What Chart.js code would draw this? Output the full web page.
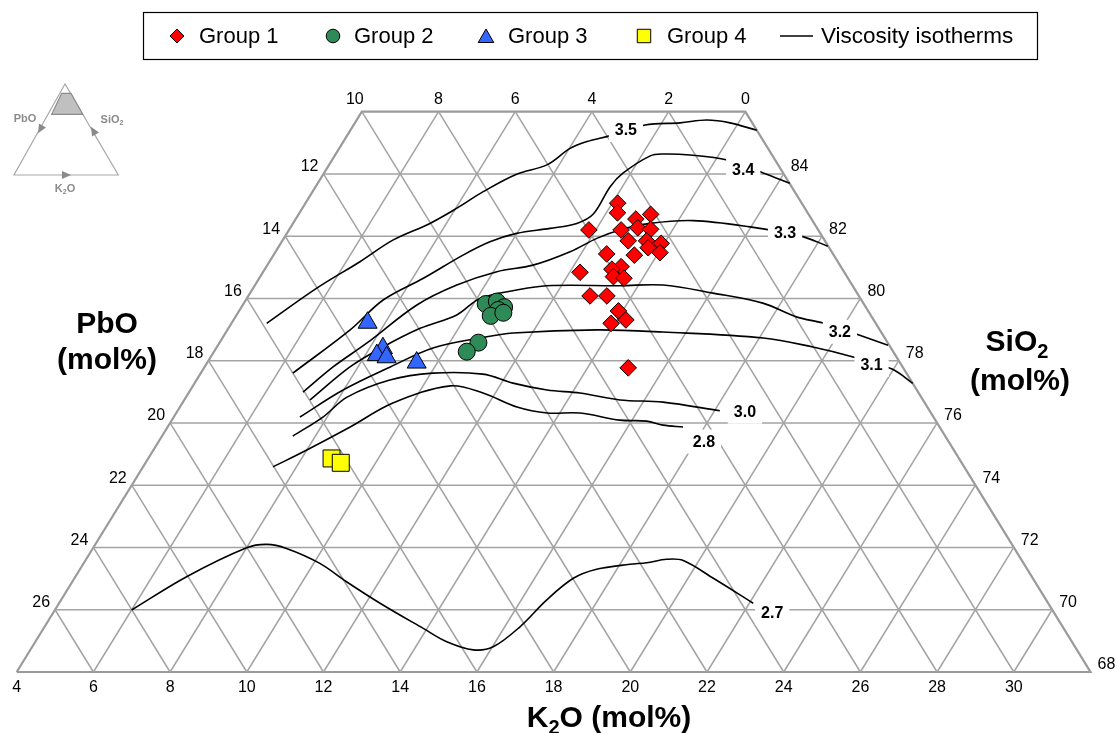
<!DOCTYPE html>
<html>
<head>
<meta charset="utf-8">
<script src="https://cdn.jsdelivr.net/npm/chart.js@4.4.1/dist/chart.umd.min.js"></script>
<style>
  html, body { margin: 0; padding: 0; background: #fff; }
</style>
</head>
<body>
<canvas id="ternary" width="1117" height="733"></canvas>
<script>
// glass compositions in mol%, stored as [K2O, SiO2]; PbO is the remainder
const group1 = [
  [12.14, 83.06], [12.29, 82.75], [12.87, 82.55], [13.18, 82.70], [11.82, 82.20],
  [12.66, 82.20], [13.06, 82.27], [13.42, 82.22], [13.02, 81.85], [13.50, 81.85],
  [13.92, 81.77], [13.65, 81.63], [14.04, 81.47], [13.41, 81.39], [12.67, 81.43],
  [13.25, 81.02], [13.05, 80.94], [13.21, 80.70], [13.51, 80.65], [12.27, 80.84],
  [12.91, 80.08], [13.35, 80.08], [13.89, 79.60], [14.23, 79.31], [13.90, 79.20],
  [15.06, 77.77]
];
const group2 = [
  [10.32, 79.82], [10.57, 79.90], [10.85, 79.72], [10.74, 79.63], [10.64, 79.44],
  [10.92, 79.54], [10.75, 78.58], [10.59, 78.29]
];
const group3 = [[7.54, 79.22], [8.35, 78.40], [8.30, 78.18], [8.59, 78.11], [9.46, 77.94]];
const group4 = [[8.78, 74.86], [9.09, 74.72]];

// viscosity isotherms (log units), traced as [K2O, SiO2]
const isoLevels = ['3.5', '3.4', '3.3', '3.2', '3.1', '3.0', '2.8', '2.7'];
const iso35 = [[4.92, 79.20], [5.66, 80.33], [6.36, 81.18], [6.88, 81.88], [7.57, 82.41], [8.03, 82.90],
  [8.45, 83.43], [9.04, 83.99], [9.68, 84.29], [10.02, 84.82], [10.35, 85.04], [10.86, 85.23],
  [11.60, 85.57], [12.48, 85.64], [13.13, 85.73], [13.78, 85.64], [14.60, 85.40]];
const iso34 = [[6.40, 77.60], [7.20, 78.99], [7.58, 79.95], [8.28, 80.65], [8.95, 81.40], [9.43, 81.82],
  [9.99, 82.09], [10.78, 82.25], [11.40, 82.41], [11.68, 82.71], [11.68, 83.59], [11.80, 84.03],
  [12.23, 84.58], [12.53, 84.64], [13.25, 84.61], [14.30, 84.45], [15.45, 84.03], [16.31, 83.70]];
const iso33 = [[6.97, 76.99], [7.35, 77.80], [7.85, 78.57], [8.54, 79.79], [9.26, 80.43], [10.09, 80.86],
  [10.93, 81.07], [11.68, 81.50], [12.16, 81.93], [12.63, 82.20], [13.31, 82.41], [14.39, 82.50],
  [15.97, 82.30], [17.42, 82.01], [18.31, 81.68]];
const iso32 = [[7.28, 76.74], [7.79, 77.80], [8.33, 78.44], [9.00, 79.04], [9.74, 79.47], [10.08, 80.00],
  [10.90, 80.27], [11.62, 80.41], [13.53, 80.41], [14.64, 80.43], [16.07, 80.17], [17.53, 79.85],
  [18.65, 79.40], [19.42, 79.21], [20.53, 78.83], [21.47, 78.50]];
const iso31 = [[7.29, 76.19], [7.98, 77.06], [8.84, 77.80], [9.65, 78.41], [10.72, 78.73], [11.50, 78.89],
  [13.64, 78.99], [15.39, 78.92], [18.10, 78.73], [19.54, 78.44], [20.75, 78.12], [21.96, 77.73],
  [22.73, 77.27]];
const iso30 = [[7.41, 75.58], [7.89, 76.19], [8.20, 76.83], [9.04, 77.38], [10.05, 77.60], [11.37, 77.57],
  [12.30, 77.28], [13.30, 77.06], [14.21, 76.96], [15.36, 76.74], [16.52, 76.67], [18.14, 76.39]];
const iso28 = [[7.39, 74.59], [8.00, 75.13], [8.76, 75.87], [9.49, 76.64], [10.71, 77.19], [11.68, 76.96],
  [12.79, 76.51], [13.67, 76.32], [14.53, 76.32], [15.68, 76.09], [16.40, 76.06], [16.89, 75.93],
  [17.44, 75.87]];
const iso27 = [[6.00, 69.99], [6.90, 71.06], [8.00, 71.99], [8.47, 72.10], [9.05, 71.97], [10.16, 71.49],
  [11.15, 70.90], [12.37, 70.21], [13.90, 69.40], [14.73, 68.97], [15.55, 68.71], [16.02, 68.81],
  [16.40, 69.46], [16.66, 70.31], [17.01, 71.01], [17.47, 71.30], [18.26, 71.46], [18.67, 71.51],
  [19.14, 71.62], [19.59, 71.58], [20.66, 71.01], [22.10, 70.21]];
const isoLines = [iso35, iso34, iso33, iso32, iso31, iso30, iso28, iso27];
const isoLabelPos = [[11.18, 85.41], [14.88, 84.13], [16.97, 82.13], [20.00, 78.93],
  [21.36, 77.86], [18.81, 76.36], [18.22, 75.40], [22.75, 69.90]];

// tick values along the edges of the field
const pbTopTicks = [10, 8, 6, 4, 2, 0];
const pbLeftTicks = [12, 14, 16, 18, 20, 22, 24, 26];
const siTicks = [84, 82, 80, 78, 76, 74, 72, 70, 68];
const kTicks = [4, 6, 8, 10, 12, 14, 16, 18, 20, 22, 24, 26, 28, 30];

// field limits: K2O >= 4, PbO >= 0, 68 <= SiO2 <= 86
const K_MIN = 4, SI_MIN = 68, SI_MAX = 86;

const FONT = '"Liberation Sans", Arial, Helvetica, sans-serif';
const W = 1117, H = 733;
// base corner (K2O 4, SiO2 68) sits at X0,Y0; pixels per mol% along the base and per mol% SiO2
const X0 = 16.7, Y0 = 672, PX_U = 38.35, PX_S = 31.13;

// ternary -> cartesian: x runs along the base, y is SiO2
function tern(k, s) {
  return { x: k - K_MIN + (s - SI_MIN) / 2, y: s };
}

const gridColor = '#a3a3a3';
const gridSets = [];
function gridLine(a, b, width) {
  gridSets.push({
    data: [tern(a[0], a[1]), tern(b[0], b[1])],
    showLine: true, borderColor: gridColor, borderWidth: width || 1.5,
    pointRadius: 0, order: 3
  });
}
for (let s = 70; s < SI_MAX; s += 2) gridLine([K_MIN, s], [100 - s, s]);
for (let k = 6; k <= 30; k += 2) { const top = Math.min(SI_MAX, 100 - k); gridLine([k, SI_MIN], [k, top]); }
for (let p = 2; p <= 26; p += 2) { const top = Math.min(SI_MAX, 96 - p); gridLine([100 - p - top, top], [32 - p, SI_MIN]); }
// outline of the field
gridSets.push({
  data: [[4, 68], [4, 86], [14, 86], [32, 68], [4, 68]].map(d => tern(d[0], d[1])),
  showLine: true, borderColor: '#9a9a9a', borderWidth: 2.2, pointRadius: 0, order: 3
});

const isoSets = isoLines.map((pts, i) => ({
  label: 'isotherm ' + isoLevels[i],
  data: pts.map(d => tern(d[0], d[1])),
  showLine: true, borderColor: '#000', borderWidth: 1.6, tension: 0.35,
  pointRadius: 0, order: 2
}));

function markers(pts, style, radius, color) {
  return {
    data: pts.map(d => tern(d[0], d[1])),
    pointStyle: style, pointRadius: radius, pointBackgroundColor: color,
    pointBorderColor: '#000', pointBorderWidth: 1, showLine: false, order: 1
  };
}
const markerSets = [
  markers(group1, 'rectRot', 8.3, '#ff0000'),
  markers(group2, 'circle', 8.5, '#2e8b57'),
  markers(group3, 'triangle', 11, '#3366ff'),
  markers(group4, 'rect', 12, '#ffff00')
];

function pix(chart, k, s) {
  const t = tern(k, s);
  return { x: chart.scales.x.getPixelForValue(t.x), y: chart.scales.y.getPixelForValue(t.y) };
}

// text with subscripts: parts starting with '_' are lowered and shrunk
function chemWidth(ctx, parts, size, weight) {
  let w = 0;
  parts.forEach(p => {
    const sub = p[0] === '_';
    ctx.font = `${weight} ${sub ? Math.round(size * 0.65) : size}px ${FONT}`;
    w += ctx.measureText(sub ? p.slice(1) : p).width;
  });
  return w;
}
function drawChem(ctx, parts, x, y, size, weight, align) {
  const w = chemWidth(ctx, parts, size, weight);
  let cx = align === 'center' ? x - w / 2 : (align === 'right' ? x - w : x);
  ctx.textAlign = 'left';
  ctx.textBaseline = 'alphabetic';
  parts.forEach(p => {
    const sub = p[0] === '_';
    const t = sub ? p.slice(1) : p;
    ctx.font = `${weight} ${sub ? Math.round(size * 0.65) : size}px ${FONT}`;
    ctx.fillText(t, cx, sub ? y + size * 0.22 : y);
    cx += ctx.measureText(t).width;
  });
}

const isoLabels = {
  id: 'isoLabels',
  afterDatasetsDraw(chart) {
    const ctx = chart.ctx;
    ctx.save();
    ctx.font = `bold 16px ${FONT}`;
    ctx.textAlign = 'center';
    ctx.textBaseline = 'middle';
    isoLevels.forEach((lv, i) => {
      const p = pix(chart, isoLabelPos[i][0], isoLabelPos[i][1]);
      const w = ctx.measureText(lv).width + 12;
      ctx.fillStyle = '#fff';
      ctx.fillRect(p.x - w / 2, p.y - 12, w, 24);
      ctx.fillStyle = '#000';
      ctx.fillText(lv, p.x, p.y + 1);
    });
    ctx.restore();
  }
};

const decorations = {
  id: 'decorations',
  afterDraw(chart) {
    const ctx = chart.ctx;
    ctx.save();

    // edge tick labels
    ctx.fillStyle = '#000';
    ctx.font = `16px ${FONT}`;
    ctx.textBaseline = 'middle';
    ctx.textAlign = 'center';
    pbTopTicks.forEach(v => {
      const p = pix(chart, 14 - v, SI_MAX);
      ctx.fillText(String(v), p.x - (v === 10 ? 7 : 0), p.y - 12);
    });
    kTicks.forEach(v => {
      const p = pix(chart, v, SI_MIN);
      ctx.fillText(String(v), p.x, p.y + 16);
    });
    ctx.textAlign = 'right';
    pbLeftTicks.forEach(v => {
      const p = pix(chart, K_MIN, 96 - v);
      ctx.fillText(String(v), p.x - 5, p.y - 7);
    });
    ctx.textAlign = 'left';
    siTicks.forEach(v => {
      const p = pix(chart, 100 - v, v);
      ctx.fillText(String(v), p.x + 7, p.y - 7);
    });

    // axis titles
    drawChem(ctx, ['PbO'], 107, 333, 30, 'bold', 'center');
    drawChem(ctx, ['(mol%)'], 107, 369, 30, 'bold', 'center');
    drawChem(ctx, ['SiO', '_2'], 1017, 351, 30, 'bold', 'center');
    drawChem(ctx, ['(mol%)'], 1020, 390, 30, 'bold', 'center');
    drawChem(ctx, ['K', '_2', 'O (mol%)'], 609, 727, 30, 'bold', 'center');

    // legend
    ctx.strokeStyle = '#000';
    ctx.lineWidth = 1.2;
    ctx.strokeRect(143.5, 12.5, 894, 47);
    const ly = 36;
    const items = [
      { style: 'rectRot', r: 7, color: '#ff0000', x: 177, tx: 199, text: 'Group 1' },
      { style: 'circle', r: 6.8, color: '#2e8b57', x: 333, tx: 354, text: 'Group 2' },
      { style: 'triangle', r: 9, color: '#3366ff', x: 486, tx: 508, text: 'Group 3' },
      { style: 'rect', r: 9.5, color: '#ffff00', x: 644, tx: 667, text: 'Group 4' }
    ];
    items.forEach(it => {
      ctx.fillStyle = it.color;
      ctx.strokeStyle = '#000';
      ctx.lineWidth = 1;
      Chart.helpers.drawPoint(ctx, { pointStyle: it.style, radius: it.r, borderWidth: 1, rotation: 0 }, it.x, ly + (it.style === 'triangle' ? 2 : 0));
      ctx.fillStyle = '#000';
      ctx.font = `22px ${FONT}`;
      ctx.textAlign = 'left';
      ctx.textBaseline = 'middle';
      ctx.fillText(it.text, it.tx, ly + 1);
    });
    ctx.beginPath();
    ctx.moveTo(780, ly);
    ctx.lineTo(813, ly);
    ctx.lineWidth = 1.6;
    ctx.stroke();
    ctx.font = `22.5px ${FONT}`;
    ctx.fillText('Viscosity isotherms', 821, ly + 1);

    // key triangle in the corner showing where the field lies
    const A = [65, 84], L = [14, 175], R = [118.3, 175];
    ctx.strokeStyle = '#a8a8a8';
    ctx.lineWidth = 1.2;
    ctx.beginPath();
    ctx.moveTo(A[0], A[1]); ctx.lineTo(L[0], L[1]); ctx.lineTo(R[0], R[1]); ctx.closePath();
    ctx.stroke();
    ctx.fillStyle = '#c0c0c0';
    ctx.strokeStyle = '#8a8a8a';
    ctx.beginPath();
    ctx.moveTo(61.7, 93.3); ctx.lineTo(71, 93.3); ctx.lineTo(82.7, 114.3); ctx.lineTo(51.7, 114.3); ctx.closePath();
    ctx.fill(); ctx.stroke();
    const arrow = (x, y, ang) => {
      ctx.save();
      ctx.translate(x, y);
      ctx.rotate(ang);
      ctx.beginPath();
      ctx.moveTo(5, 0); ctx.lineTo(-4, -4); ctx.lineTo(-4, 4); ctx.closePath();
      ctx.fillStyle = '#8a8a8a';
      ctx.fill();
      ctx.restore();
    };
    arrow(40.5, 129, Math.atan2(L[1] - A[1], L[0] - A[0]));
    arrow(93.5, 131, Math.atan2(A[1] - R[1], A[0] - R[0]));
    arrow(66, 175, 0);
    ctx.fillStyle = '#8a8a8a';
    drawChem(ctx, ['PbO'], 25, 122, 11, 'bold', 'center');
    drawChem(ctx, ['SiO', '_2'], 112, 123, 11, 'bold', 'center');
    drawChem(ctx, ['K', '_2', 'O'], 65, 192, 11, 'bold', 'center');

    ctx.restore();
  }
};

new Chart(document.getElementById('ternary'), {
  type: 'scatter',
  data: { datasets: [...markerSets, ...isoSets, ...gridSets] },
  options: {
    responsive: false,
    animation: false,
    events: [],
    layout: { padding: 0, autoPadding: false },
    scales: {
      x: { type: 'linear', display: false, min: -X0 / PX_U, max: (W - X0) / PX_U },
      y: { type: 'linear', display: false, min: SI_MIN - (H - Y0) / PX_S, max: SI_MIN + Y0 / PX_S }
    },
    plugins: { legend: { display: false }, tooltip: { enabled: false } }
  },
  plugins: [isoLabels, decorations]
});
</script>
</body>
</html>
